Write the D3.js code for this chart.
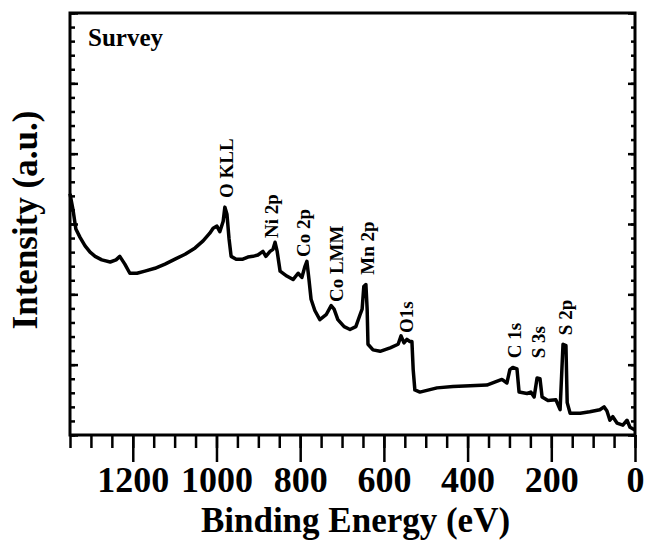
<!DOCTYPE html>
<html>
<head>
<meta charset="utf-8">
<script src="https://cdn.jsdelivr.net/npm/d3@7"></script>
<style>
body{margin:0;background:#fff;}
text{font-family:"Liberation Serif","Times New Roman",serif;font-weight:bold;fill:#000;}
</style>
</head>
<body>
<svg id="chart" width="646" height="542"></svg>
<script>
// survey spectrum
var energy = [1350,1343,1336,1326,1314,1302,1290,1274,1254,1240,1231,1219,1207,1190,1171,1147,1123,1099,1075,1051,1032,1016,1008,999,992,984,980,975,970,965,953,937,925,913,901,889,882,872,865,860,855,848,832,817,805,796,789,784,779,774,765,753,738,726,719,710,695,681,667,657,652,648,643,640,638,626,609,585,566,559,552,545,538,533,530,526,514,473,435,394,354,318,306,299,292,282,277,258,249,241,234,227,222,208,189,179,172,165,162,155,131,108,84,74,67,60,53,43,29,19,12,0];
var intensity = [3.43,3.21,2.93,2.81,2.69,2.60,2.54,2.49,2.46,2.49,2.54,2.43,2.30,2.30,2.33,2.37,2.43,2.50,2.57,2.66,2.76,2.87,2.94,2.97,2.89,3.04,3.24,3.14,2.79,2.54,2.50,2.50,2.53,2.54,2.56,2.61,2.54,2.61,2.64,2.74,2.61,2.33,2.26,2.21,2.30,2.24,2.39,2.47,2.21,1.93,1.77,1.64,1.71,1.84,1.79,1.64,1.54,1.50,1.54,1.71,1.79,2.11,2.14,1.79,1.29,1.21,1.19,1.24,1.29,1.41,1.31,1.36,1.33,1.33,0.93,0.64,0.61,0.67,0.69,0.70,0.71,0.79,0.74,0.93,0.96,0.94,0.61,0.59,0.61,0.54,0.81,0.80,0.54,0.49,0.50,0.36,1.29,1.27,0.46,0.31,0.31,0.33,0.36,0.40,0.34,0.21,0.26,0.17,0.14,0.21,0.11,0.07];

// peak labels: name, energy of label, intensity where label starts
var peakNames = ['O KLL','Ni 2p','Co 2p','Co LMM','Mn 2p','O1s','C 1s','S 3s','S 2p'];
var peakEnergy = [961,853,777,698,624,530,272,215,151];
var peakLevel = [3.37,2.80,2.53,1.89,2.28,1.45,1.09,1.09,1.42];

var xMajor = [1200,1000,800,600,400,200,0];
var xMinor = d3.range(1350,-1,-50);
var yMajor = [0,1,2,3,4,5,6];
var yMinor = d3.range(0,6.01,0.2);

var pLeft = 70, pRight = 635, pTop = 13, pBottom = 435;

var svg = d3.select('#chart');

var x = d3.scaleLinear().domain([1350,0]).range([pLeft,pRight]);
var y = d3.scaleLinear().domain([0,6]).range([pBottom,pTop]);

function styleAxis(g){
	g.select('.domain').remove();
	g.selectAll('.tick line').attr('stroke','#000').attr('stroke-width',2.5);
}

// bottom ticks (outward)
svg.append('g')
.attr('transform','translate(0,'+pBottom+')')
.call(d3.axisBottom(x).tickValues(xMinor).tickSize(13).tickFormat(''))
.call(styleAxis);

svg.append('g')
.attr('transform','translate(0,'+pBottom+')')
.call(d3.axisBottom(x).tickValues(xMajor).tickSize(27).tickPadding(4).tickFormat(d3.format('d')))
.call(styleAxis)
.call(g=>g.selectAll('text').attr('font-size','36px').attr('font-family','Liberation Serif').attr('font-weight','bold').attr('fill','#000'));

// left / right ticks (inward)
svg.append('g').attr('transform','translate('+pLeft+',0)')
.call(d3.axisLeft(y).tickValues(yMinor).tickSize(-5).tickFormat('')).call(styleAxis);
svg.append('g').attr('transform','translate('+pLeft+',0)')
.call(d3.axisLeft(y).tickValues(yMajor).tickSize(-8).tickFormat('')).call(styleAxis);
svg.append('g').attr('transform','translate('+pRight+',0)')
.call(d3.axisRight(y).tickValues(yMinor).tickSize(-4).tickFormat('')).call(styleAxis);
svg.append('g').attr('transform','translate('+pRight+',0)')
.call(d3.axisRight(y).tickValues(yMajor).tickSize(-7).tickFormat('')).call(styleAxis);

// frame
svg.append('rect')
.attr('x',pLeft).attr('y',pTop)
.attr('width',pRight-pLeft).attr('height',pBottom-pTop)
.attr('fill','none').attr('stroke','#000').attr('stroke-width',3);

// spectrum
var pts = energy.map((e,i)=>[e,intensity[i]]);
var line = d3.line().x(d=>x(d[0])).y(d=>y(d[1]));
svg.append('path')
.datum(pts)
.attr('d',line)
.attr('fill','none')
.attr('stroke','#000')
.attr('stroke-width',3.5)
.attr('stroke-linejoin','round');

// peak labels
peakNames.forEach(function(name,i){
	svg.append('text')
	.attr('transform','translate('+x(peakEnergy[i])+','+y(peakLevel[i])+') rotate(-90)')
	.attr('font-size','19px')
	.text(name);
});

svg.append('text')
.attr('x',88).attr('y',46)
.attr('font-size','25px')
.text('Survey');

// axis titles
svg.append('text')
.attr('x',(pLeft+pRight)/2+3).attr('y',532)
.attr('text-anchor','middle')
.attr('font-size','35px')
.text('Binding Energy (eV)');

svg.append('text')
.attr('transform','translate(37,220) rotate(-90)')
.attr('text-anchor','middle')
.attr('font-size','35px')
.text('Intensity (a.u.)');
</script>
</body>
</html>
